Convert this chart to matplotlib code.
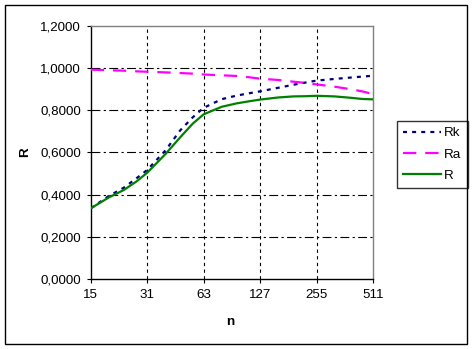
"""Rk, Ra and R against n, drawn in the old Excel chart style"""

import matplotlib

matplotlib.use("Agg")

import matplotlib.pyplot as plt
import numpy as np
from matplotlib.patches import Rectangle

# Values
n_values = [15, 19, 23, 27, 31, 39, 47, 55, 63, 79, 95, 111, 127,
            159, 191, 223, 255, 319, 383, 447, 511]
rk_values = [0.335, 0.394, 0.433, 0.477, 0.517, 0.609, 0.705, 0.767, 0.812,
             0.853, 0.870, 0.881, 0.890, 0.907, 0.921, 0.932, 0.941,
             0.949, 0.955, 0.960, 0.964]
ra_values = [0.993, 0.990, 0.988, 0.985, 0.983, 0.980, 0.977, 0.974, 0.970,
             0.966, 0.963, 0.957, 0.950, 0.944, 0.936, 0.930, 0.923,
             0.912, 0.901, 0.890, 0.877]
r_values = [0.335, 0.387, 0.422, 0.462, 0.504, 0.592, 0.672, 0.737, 0.781,
            0.817, 0.833, 0.843, 0.851, 0.861, 0.866, 0.867, 0.869,
            0.866, 0.860, 0.854, 0.852]
x_ticks = [15, 31, 63, 127, 255, 511]
y_ticks = [0.0, 0.2, 0.4, 0.6, 0.8, 1.0, 1.2]

plt.rcParams["font.family"] = ["Liberation Sans", "DejaVu Sans"]
FONT_SIZE = 9.6

figure = plt.figure(figsize=(4.73, 3.49), dpi=100)
axes = figure.add_axes([0.1918, 0.2006, 0.5968, 0.7249])

# Outer chart frame
figure.patches.append(Rectangle((5 / 473, 5 / 349), 462 / 473, 339 / 349,
                                transform=figure.transFigure, fill=False,
                                edgecolor="black", linewidth=1.0))

# Octave-like axis: positions follow log2(n + 1)
axes.set_xscale("function", functions=(lambda x: np.log2(x + 1), lambda y: 2 ** y - 1))
axes.set_xlim(15, 511)
axes.set_ylim(0, 1.2)

# Grid lines first so the curves sit on top
for tick in x_ticks[1:-1]:
    axes.axvline(tick, color="black", linewidth=0.8, dashes=(3, 3), zorder=1)
for tick in y_ticks[1:-1]:
    axes.axhline(tick, color="black", linewidth=0.8, dashes=(8, 3, 2, 3), zorder=1)

axes.plot(n_values, rk_values, color="#000080", linewidth=1.6, dashes=(1.8, 2.3),
          label="Rk", zorder=3)
axes.plot(n_values, ra_values, color="#FF00FF", linewidth=1.6, dashes=(6, 4),
          label="Ra", zorder=3)
axes.plot(n_values, r_values, color="#008000", linewidth=1.6, label="R", zorder=3)

axes.set_xticks(x_ticks)
axes.set_xticklabels([str(t) for t in x_ticks])
axes.minorticks_off()
axes.set_yticks(y_ticks)
axes.set_yticklabels([f"{t:.4f}".replace(".", ",") for t in y_ticks])
axes.tick_params(direction="out", length=3, width=0.8, labelsize=FONT_SIZE, pad=4)

for side in ("left", "bottom"):
    axes.spines[side].set_color("black")
    axes.spines[side].set_linewidth(1.0)
for side in ("top", "right"):
    axes.spines[side].set_color("#808080")
    axes.spines[side].set_linewidth(1.0)

figure.text(230 / 473, 1 - 322 / 349, "n", fontsize=FONT_SIZE, fontweight="bold",
            ha="center", va="center")
figure.text(25 / 473, 1 - 152 / 349, "R", fontsize=FONT_SIZE, fontweight="bold",
            ha="center", va="center", rotation=90)

legend = axes.legend(loc="upper left", bbox_to_anchor=(397 / 473, 1 - 121 / 349),
                     bbox_transform=figure.transFigure, fontsize=FONT_SIZE,
                     frameon=True, fancybox=False, handlelength=2.85,
                     handletextpad=0.25, labelspacing=0.68, borderpad=0.45,
                     borderaxespad=0)
legend.get_frame().set_edgecolor("black")
legend.get_frame().set_linewidth(1.0)

figure.savefig("out.png", dpi=100)
